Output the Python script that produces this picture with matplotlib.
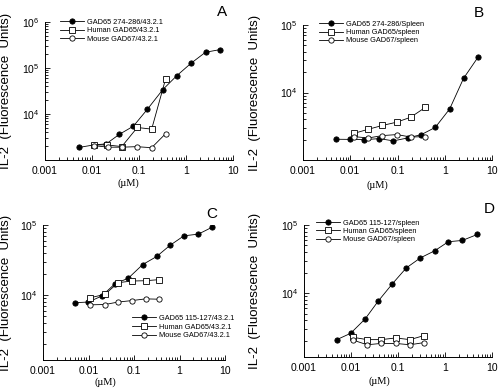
import numpy as np
import matplotlib
matplotlib.use('Agg')
import matplotlib.pyplot as plt
from matplotlib import ticker

plt.rcParams['font.family'] = ['Liberation Sans', 'DejaVu Sans']
plt.rcParams['mathtext.default'] = 'regular'

# ---- data (x in uM, y = IL-2 fluorescence units) ----
# panel A : 43.2.1 hybridoma, GAD65 274-286
a_pep_x = [0.0052, 0.011, 0.020, 0.038, 0.076, 0.15, 0.32, 0.63, 1.27, 2.6, 5.3]
a_pep_y = [1870, 2130, 2240, 3600, 5440, 12600, 33800, 67400, 126000, 220000, 251000]
a_hum_x = [0.011, 0.0205, 0.043, 0.092, 0.186, 0.37]
a_hum_y = [2130, 2130, 1960, 5090, 4690, 59000]
a_mou_x = [0.011, 0.022, 0.044, 0.089, 0.186, 0.37]
a_mou_y = [2050, 1900, 1900, 1950, 1850, 3750]

# panel B : spleen, GAD65 274-286
b_pep_x = [0.0050, 0.0098, 0.020, 0.041, 0.082, 0.163, 0.32, 0.63, 1.27, 2.5, 5.1]
b_pep_y = [2030, 2020, 2000, 2075, 1920, 2120, 2380, 3040, 5700, 16200, 33600]
b_hum_x = [0.012, 0.024, 0.048, 0.097, 0.19, 0.39]
b_hum_y = [2480, 2850, 3250, 3640, 4300, 6030]
b_mou_x = [0.012, 0.024, 0.048, 0.097, 0.19, 0.39]
b_mou_y = [2220, 2120, 2300, 2380, 2190, 2220]

# panel C : 43.2.1 hybridoma, GAD65 115-127
c_pep_x = [0.0050, 0.0099, 0.0195, 0.038, 0.075, 0.155, 0.315, 0.62, 1.25, 2.6, 5.1]
c_pep_y = [7760, 7940, 9660, 14450, 17400, 27200, 35500, 51300, 70000, 74100, 92300]
c_hum_x = [0.0108, 0.023, 0.045, 0.089, 0.18, 0.36]
c_hum_y = [9120, 10230, 15000, 15850, 16000, 16600]
c_mou_x = [0.0108, 0.023, 0.045, 0.089, 0.18, 0.36]
c_mou_y = [7240, 7320, 7940, 8320, 8810, 8710]

# panel D : spleen, GAD65 115-127
d_pep_x = [0.0050, 0.0098, 0.020, 0.038, 0.076, 0.15, 0.30, 0.60, 1.18, 2.34, 4.9]
d_pep_y = [2070, 2560, 4170, 7630, 13700, 23400, 32900, 41700, 56800, 59300, 72800]
d_hum_x = [0.011, 0.022, 0.044, 0.089, 0.18, 0.355]
d_hum_y = [2240, 2070, 2070, 2190, 2070, 2370]
d_mou_x = [0.011, 0.022, 0.044, 0.089, 0.18, 0.355]
d_mou_y = [2040, 1740, 1820, 1820, 1740, 1870]

a_labels = ['GAD65 274-286/43.2.1', 'Human GAD65/43.2.1', 'Mouse GAD67/43.2.1']
b_labels = ['GAD65 274-286/Spleen', 'Human GAD65/spleen', 'Mouse GAD67/spleen']
c_labels = ['GAD65 115-127/43.2.1', 'Human GAD65/43.2.1', 'Mouse GAD67/43.2.1']
d_labels = ['GAD65 115-127/spleen', 'Human GAD65/spleen', 'Mouse GAD67/spleen']

x_ticks = [0.001, 0.01, 0.1, 1, 10]
x_ticklabels = ['0.001', '0.01', '0.1', '1', '10']

W, H = 499, 389
fig = plt.figure(figsize=(W / 100, H / 100), dpi=100)


def px_axes(left, right, top, bottom):
    return fig.add_axes([left / W, 1 - bottom / H, (right - left) / W, (bottom - top) / H])


def panel(ax, series, labels, ylim, yticks, letter, letter_xy, leg_anchor, leg_pitch, mu_xy, ylab_x):
    styles = [dict(marker='o', mfc='black'),
              dict(marker='s', mfc='white'),
              dict(marker='o', mfc='white')]
    for (x, y), st, lab in zip(series, styles, labels):
        ax.plot(x, y, color='black', lw=0.6, ms=3.8, mec='black', mew=0.6, label=lab, **st)
    ax.set_xscale('log')
    ax.set_yscale('log')
    ax.set_xlim(1e-3, 10)
    ax.set_ylim(*ylim)
    ax.xaxis.set_major_locator(ticker.FixedLocator(x_ticks))
    ax.xaxis.set_major_formatter(ticker.FixedFormatter(x_ticklabels))
    ax.xaxis.set_minor_locator(ticker.LogLocator(subs=np.arange(2, 10)))
    ax.xaxis.set_minor_formatter(ticker.NullFormatter())
    ax.yaxis.set_major_locator(ticker.FixedLocator(yticks))
    ax.yaxis.set_minor_locator(ticker.LogLocator(subs=np.arange(2, 10)))
    ax.yaxis.set_minor_formatter(ticker.NullFormatter())
    ax.spines['top'].set_visible(False)
    ax.spines['right'].set_visible(False)
    for s in ('left', 'bottom'):
        ax.spines[s].set_linewidth(0.7)
    ax.tick_params(which='both', direction='in', width=0.6, labelsize=7.5, pad=4)
    ax.tick_params(which='major', length=3.5)
    ax.tick_params(which='minor', length=2)
    ax.patch.set_alpha(0)

    fs = 5.3
    fpx = fs * 100 / 72
    ls = (leg_pitch - 1.16 * fpx) / fpx
    ax.legend(loc='upper left', bbox_to_anchor=leg_anchor, frameon=False,
              fontsize=fs, borderpad=0, borderaxespad=0, handlelength=3.2,
              handletextpad=0.45, labelspacing=ls, numpoints=1)

    fig.text(letter_xy[0] / W, 1 - letter_xy[1] / H, letter, fontsize=11,
             ha='center', va='center')
    fig.text(mu_xy[0] / W, 1 - mu_xy[1] / H, '(\u00b5M)', fontsize=7.5,
             family=['Liberation Serif', 'DejaVu Serif'], ha='center', va='center')
    pos = ax.get_position()
    fig.text(ylab_x / W, pos.y0 + pos.height / 2, 'IL-2  (Fluorescence  Units)',
             rotation=90, fontsize=9.5, ha='center', va='center')


axA = px_axes(45, 233, 22, 160)
axB = px_axes(303, 492, 25, 160)
axC = px_axes(43, 225, 225, 360)
axD = px_axes(304, 492, 225, 357)

panel(axA, [(a_pep_x, a_pep_y), (a_hum_x, a_hum_y), (a_mou_x, a_mou_y)], a_labels,
      (1e3, 1e6), [1e4, 1e5, 1e6], 'A', (222, 12), (0.08, 1.024), 10, (128, 183), 6)
panel(axB, [(b_pep_x, b_pep_y), (b_hum_x, b_hum_y), (b_mou_x, b_mou_y)], b_labels,
      (1e3, 1e5), [1e4, 1e5], 'B', (479, 13), (0.085, 1.031), 9.5, (377, 185), 255)
panel(axC, [(c_pep_x, c_pep_y), (c_hum_x, c_hum_y), (c_mou_x, c_mou_y)], c_labels,
      (1.18e3, 1e5), [1e4, 1e5], 'C', (212, 214), (0.489, 0.335), 10, (105, 382), 6)
panel(axD, [(d_pep_x, d_pep_y), (d_hum_x, d_hum_y), (d_mou_x, d_mou_y)], d_labels,
      (1.15e3, 1e5), [1e4, 1e5], 'D', (489, 209), (0.064, 1.04), 9.5, (379, 381), 255)

fig.savefig('out.png', dpi=100)
